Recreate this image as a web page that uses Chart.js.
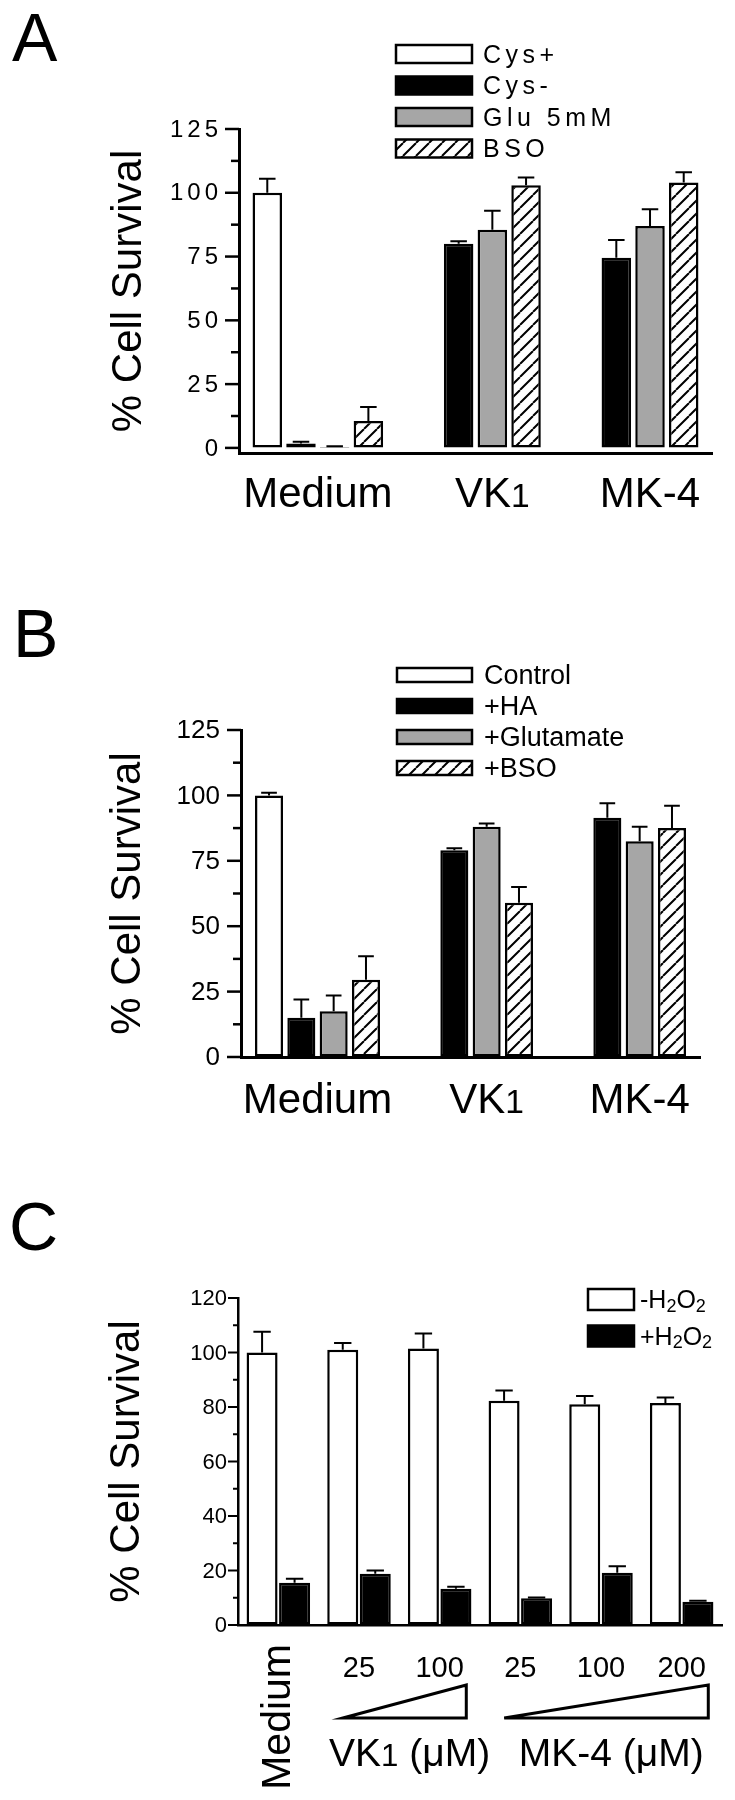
<!DOCTYPE html>
<html>
<head>
<meta charset="utf-8">
<script src="https://cdn.jsdelivr.net/npm/chart.js@4.4.0/dist/chart.umd.min.js"></script>
<style>
  body { margin: 0; background: #fff; }
  #page { position: relative; width: 735px; height: 1800px; font-family: "Liberation Sans", Arial, sans-serif; }
  canvas { position: absolute; left: 0; }
  .letter { position: absolute; z-index: 2; font-size: 68px; line-height: 1; color: #000; }
</style>
</head>
<body>
<div id="page">
  <canvas id="chartA" width="735" height="560" style="top:0"></canvas>
  <canvas id="chartB" width="735" height="560" style="top:560px"></canvas>
  <canvas id="chartC" width="735" height="680" style="top:1120px"></canvas>
  <div class="letter" style="left:12px;top:3px">A</div>
  <div class="letter" style="left:13px;top:599px">B</div>
  <div class="letter" style="left:9px;top:1192px">C</div>
</div>
<script>
// ---- Panel A data ----
const groupsA = ['Medium', 'VK₁', 'MK-4'];
const cysPlus = [100, null, null];
const cysPlusErr = [5.5, 0, 0];
const cysMinus = [1.7, 80, 74.5];
const cysMinusErr = [0.7, 1, 7];
const glu5mM = [0.4, 85.5, 87];
const glu5mMErr = [0.2, 7.5, 6.5];
const bsoA = [10.5, 103, 104];
const bsoAErr = [5.5, 3, 4];
const yMajorA = [0, 25, 50, 75, 100, 125];
const yMinorA = [12.5, 37.5, 62.5, 87.5, 112.5];

// ---- Panel B data ----
const groupsB = ['Medium', 'VK₁', 'MK-4'];
const controlB = [100, null, null];
const controlBErr = [1, 0, 0];
const haB = [15, 79, 91.5];
const haBErr = [7, 0.8, 5.5];
const glutamateB = [17.5, 88, 82.5];
const glutamateBErr = [6, 1.3, 5.5];
const bsoB = [29.5, 59, 87.5];
const bsoBErr = [9, 6, 8.5];
const yMajorB = [0, 25, 50, 75, 100, 125];
const yMinorB = [12.5, 37.5, 62.5, 87.5, 112.5];

// ---- Panel C data ----
const treatmentsC = ['Medium', 'VK₁ 25', 'VK₁ 100', 'MK-4 25', 'MK-4 100', 'MK-4 200'];
const doseLabelsC = ['Medium', '25', '100', '25', '100', '200'];
const minusH2O2 = [100, 101, 101.5, 82.3, 81, 81.5];
const minusH2O2Err = [7.6, 2.5, 5.5, 3.8, 3, 2];
const plusH2O2 = [15.5, 18.8, 13.3, 9.8, 19.2, 8.5];
const plusH2O2Err = [1.5, 1.2, 0.7, 0.3, 2.4, 0.4];
const yMajorC = [0, 20, 40, 60, 80, 100, 120];
const yMinorC = [10, 30, 50, 70, 90, 110];
const doseGroupsC = [
  { label: 'VK₁ (μM)', first: 1, last: 2 },
  { label: 'MK-4 (μM)', first: 3, last: 5 }
];

const FAMILY = '"Liberation Sans", Arial, sans-serif';
const SUBS = '₀₁₂₃₄₅₆₇₈₉';

// diagonal hatch fill
function hatch() {
  const s = 13;
  const c = document.createElement('canvas');
  c.width = s; c.height = s;
  const g = c.getContext('2d');
  g.fillStyle = '#fff';
  g.fillRect(0, 0, s, s);
  g.strokeStyle = '#000';
  g.lineWidth = 2;
  g.beginPath();
  for (const k of [-s, 0, s]) { g.moveTo(k, s); g.lineTo(k + s, 0); }
  g.stroke();
  return g.createPattern(c, 'repeat');
}
const HATCH = hatch();
const GREY = '#a6a6a6';

// text with small digits (subscripts)
function drawRich(ctx, text, x, y, size, align, drop, scale) {
  const runs = [];
  for (const ch of text) {
    const k = SUBS.indexOf(ch);
    const sub = k >= 0;
    const c = sub ? String(k) : ch;
    if (runs.length && runs[runs.length - 1].sub === sub) runs[runs.length - 1].t += c;
    else runs.push({ sub: sub, t: c });
  }
  let w = 0;
  runs.forEach(r => {
    ctx.font = (r.sub ? size * scale : size) + 'px ' + FAMILY;
    r.w = ctx.measureText(r.t).width;
    w += r.w;
  });
  let cx = align === 'center' ? x - w / 2 : (align === 'right' ? x - w : x);
  ctx.textAlign = 'left';
  runs.forEach(r => {
    ctx.font = (r.sub ? size * scale : size) + 'px ' + FAMILY;
    ctx.fillText(r.t, cx, y + (r.sub ? size * drop : 0));
    cx += r.w;
  });
}

// error bars, y ticks, legend and category labels
const figurePlugin = {
  id: 'figure',
  afterDatasetsDraw(chart, args, opts) {
    const ctx = chart.ctx;
    const area = chart.chartArea;
    const ys = chart.scales.y;
    const xs = chart.scales.x;
    ctx.save();
    ctx.strokeStyle = '#000';
    ctx.fillStyle = '#000';

    // error bars (upper half only)
    ctx.lineWidth = 2;
    chart.data.datasets.forEach((ds, i) => {
      const meta = chart.getDatasetMeta(i);
      ds.errors.forEach((e, j) => {
        const v = ds.data[j];
        if (v === null || !e) return;
        const bar = meta.data[j];
        const yTop = ys.getPixelForValue(v + e);
        const half = bar.width * 0.28;
        ctx.beginPath();
        ctx.moveTo(bar.x, bar.y);
        ctx.lineTo(bar.x, yTop);
        ctx.moveTo(bar.x - half, yTop);
        ctx.lineTo(bar.x + half, yTop);
        ctx.stroke();
      });
    });

    // y tick marks (major longer than minor) and major tick labels
    ctx.textBaseline = 'middle';
    ctx.textAlign = 'right';
    ctx.font = opts.tickSize + 'px ' + FAMILY;
    ctx.letterSpacing = opts.tickSpacing + 'px';
    ys.ticks.forEach(t => {
      const y = ys.getPixelForValue(t.value);
      const major = opts.yMajor.includes(t.value);
      const len = major ? opts.majorLen : opts.minorLen;
      ctx.lineWidth = opts.tickWidth;
      ctx.beginPath();
      ctx.moveTo(area.left - len, y);
      ctx.lineTo(area.left, y);
      ctx.stroke();
      if (major) ctx.fillText(String(t.value), area.left - opts.tickPad + opts.tickSpacing, y + 1);
    });
    ctx.letterSpacing = '0px';

    // legend
    const L = opts.legend;
    chart.data.datasets.forEach((ds, i) => {
      const top = L.top + i * L.rowH;
      ctx.fillStyle = ds.backgroundColor;
      ctx.fillRect(L.left, top, L.boxW, L.boxH);
      ctx.lineWidth = 2.5;
      ctx.strokeRect(L.left, top, L.boxW, L.boxH);
      ctx.fillStyle = '#000';
      ctx.textBaseline = 'middle';
      ctx.letterSpacing = L.spacing + 'px';
      drawRich(ctx, ds.label, L.left + L.boxW + L.gap, top + L.boxH / 2 + 2, L.size, 'left', 0.22, 0.72);
      ctx.letterSpacing = '0px';
    });

    // group labels centred under the bars that are present
    if (opts.groupLabels) {
      ctx.textBaseline = 'alphabetic';
      chart.data.labels.forEach((lab, j) => {
        let lo = Infinity, hi = -Infinity;
        chart.data.datasets.forEach((ds, i) => {
          if (ds.data[j] === null) return;
          const bar = chart.getDatasetMeta(i).data[j];
          lo = Math.min(lo, bar.x - bar.width / 2);
          hi = Math.max(hi, bar.x + bar.width / 2);
        });
        drawRich(ctx, lab, (lo + hi) / 2, area.bottom + opts.labelDrop, 42, 'center', 0, 0.8);
      });
    }

    // panel C: rotated control label, dose wedges and compound names
    if (opts.doseGroups) {
      const cw = xs.getPixelForValue(1) - xs.getPixelForValue(0);
      ctx.save();
      ctx.translate(xs.getPixelForValue(0), area.bottom + 19);
      ctx.rotate(-Math.PI / 2);
      ctx.font = '41px ' + FAMILY;
      ctx.textAlign = 'right';
      ctx.textBaseline = 'middle';
      ctx.fillText(opts.rotLabel, 0, 0);
      ctx.restore();
      ctx.textBaseline = 'alphabetic';
      opts.doseGroups.forEach(g => {
        const xl = xs.getPixelForValue(g.first) - 0.2 * cw;
        const xr = xs.getPixelForValue(g.last) + 0.33 * cw;
        const yb = area.bottom + 93;
        const yt = area.bottom + 60;
        ctx.lineWidth = 3;
        ctx.lineJoin = 'miter';
        ctx.beginPath();
        ctx.moveTo(xl, yb);
        ctx.lineTo(xr, yt);
        ctx.lineTo(xr, yb);
        ctx.closePath();
        ctx.stroke();
        drawRich(ctx, g.label, (xl + xr) / 2 + 5, area.bottom + 141, 39, 'center', 0, 0.8);
      });
    }
    ctx.restore();
  }
};

function barSet(label, data, errors, color) {
  return { label: label, data: data, errors: errors, backgroundColor: color };
}

function makeChart(id, cfg) {
  return new Chart(document.getElementById(id), {
    type: 'bar',
    data: { labels: cfg.labels, datasets: cfg.datasets },
    options: {
      responsive: false,
      animation: false,
      layout: { padding: { top: cfg.area.top, right: 735 - cfg.area.right, left: 0, bottom: 0 } },
      datasets: {
        bar: {
          categoryPercentage: cfg.catPct,
          barPercentage: cfg.barPct,
          borderWidth: 2.5,
          borderColor: '#000',
          borderSkipped: false
        }
      },
      plugins: { legend: { display: false }, tooltip: { enabled: false }, figure: cfg.figure },
      scales: {
        x: {
          offset: true,
          grid: { display: true, color: 'rgba(0,0,0,0)', drawTicks: false },
          border: { color: '#000', width: cfg.axisWidth },
          ticks: cfg.xTicks,
          afterFit: s => { s.height = cfg.height - cfg.area.bottom; }
        },
        y: {
          min: cfg.yMin,
          max: cfg.yMax,
          grid: { display: true, color: 'rgba(0,0,0,0)', drawTicks: false },
          border: { color: '#000', width: cfg.axisWidth },
          ticks: { display: false },
          afterBuildTicks: s => {
            s.ticks = cfg.figure.yMajor.concat(cfg.yMinor).sort((a, b) => a - b).map(v => ({ value: v }));
          },
          title: {
            display: true,
            text: '% Cell Survival',
            color: '#000',
            font: { size: 42, family: FAMILY },
            padding: { top: cfg.titlePad, bottom: 0 }
          },
          afterFit: s => { s.width = cfg.area.left; }
        }
      }
    },
    plugins: [figurePlugin]
  });
}

// Panel A
makeChart('chartA', {
  height: 560,
  area: { left: 239, top: 129, right: 712, bottom: 453 },
  labels: groupsA,
  datasets: [
    barSet('Cys+', cysPlus, cysPlusErr, '#fff'),
    barSet('Cys-', cysMinus, cysMinusErr, '#000'),
    barSet('Glu 5mM', glu5mM, glu5mMErr, GREY),
    barSet('BSO', bsoA, bsoAErr, HATCH)
  ],
  catPct: 0.855, barPct: 0.875,
  yMin: -2, yMax: 125, yMinor: yMinorA,
  titlePad: 104, axisWidth: 3,
  xTicks: { display: false },
  figure: {
    yMajor: yMajorA, majorLen: 14, minorLen: 8, tickWidth: 2.5,
    tickSize: 24, tickSpacing: 4, tickPad: 21,
    groupLabels: true, labelDrop: 54,
    legend: { left: 396, top: 45, boxW: 76, boxH: 18, rowH: 31.5, gap: 11, size: 25, spacing: 4.5 }
  }
});

// Panel B
makeChart('chartB', {
  height: 560,
  area: { left: 241, top: 170, right: 700, bottom: 497 },
  labels: groupsB,
  datasets: [
    barSet('Control', controlB, controlBErr, '#fff'),
    barSet('+HA', haB, haBErr, '#000'),
    barSet('+Glutamate', glutamateB, glutamateBErr, GREY),
    barSet('+BSO', bsoB, bsoBErr, HATCH)
  ],
  catPct: 0.845, barPct: 0.867,
  yMin: 0, yMax: 125, yMinor: yMinorB,
  titlePad: 103, axisWidth: 3,
  xTicks: { display: false },
  figure: {
    yMajor: yMajorB, majorLen: 14, minorLen: 8, tickWidth: 2.5,
    tickSize: 26, tickSpacing: 0, tickPad: 21,
    groupLabels: true, labelDrop: 56,
    legend: { left: 397, top: 108, boxW: 75, boxH: 14, rowH: 31, gap: 12, size: 27, spacing: 0 }
  }
});

// Panel C
makeChart('chartC', {
  height: 680,
  area: { left: 238, top: 178, right: 722, bottom: 505 },
  labels: treatmentsC,
  datasets: [
    barSet('-H₂O₂', minusH2O2, minusH2O2Err, '#fff'),
    barSet('+H₂O₂', plusH2O2, plusH2O2Err, '#000')
  ],
  catPct: 0.806, barPct: 0.954,
  yMin: 0, yMax: 120, yMinor: yMinorC,
  titlePad: 102, axisWidth: 2.5,
  xTicks: {
    color: '#000',
    font: { size: 29, family: FAMILY },
    padding: 27,
    maxRotation: 0,
    autoSkip: false,
    callback: (v, i) => i === 0 ? '' : doseLabelsC[i]
  },
  figure: {
    yMajor: yMajorC, majorLen: 10, minorLen: 5, tickWidth: 2,
    tickSize: 22, tickSpacing: 0, tickPad: 11,
    groupLabels: false,
    rotLabel: doseLabelsC[0],
    doseGroups: doseGroupsC,
    legend: { left: 588, top: 169, boxW: 46, boxH: 21, rowH: 36.5, gap: 6, size: 25, spacing: 0 }
  }
});
</script>
</body>
</html>
